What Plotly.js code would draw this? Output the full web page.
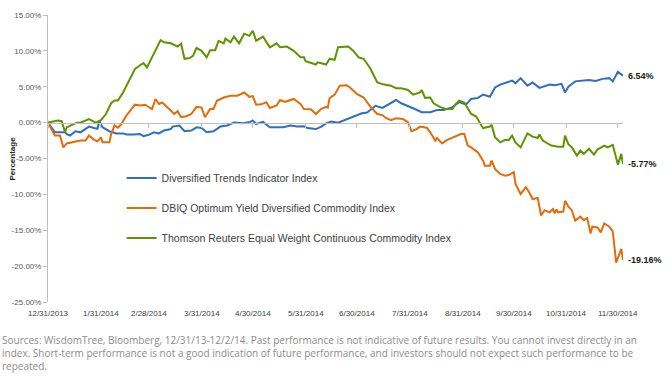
<!DOCTYPE html>
<html>
<head>
<meta charset="utf-8">
<script src="https://cdn.plot.ly/plotly-3.0.1.min.js"></script>
<style>
  html, body { margin: 0; padding: 0; background: #ffffff; }
  #chart { width: 670px; height: 383px; }
</style>
</head>
<body>
<div id="chart"></div>
<script>
// ---------- DATA (days since 12/31/2013, cumulative return in %) ----------
const baseDate = '2013-12-31';

const seriesNames = [
  'Diversified Trends Indicator Index',
  'DBIQ Optimum Yield Diversified Commodity Index',
  'Thomson Reuters Equal Weight Continuous Commodity Index'
];

const trendsDays = [0,4,10,11,13,16,19,22,24,27,29,30,32,36,40,44,46,50,54,56,59,62,65,68,72,73,77,80,84,87,90,93,97,101,105,109,114,118,120,122,126,130,134,138,142,146,150,152,157,160,163,166,170,174,179,184,187,192,196,200,204,207,211,215,219,224,228,232,237,241,245,248,252,255,259,262,265,269,272,274,277,281,284,288,290,294,297,301,303,305,309,313,317,321,325,329,331,334,337];
const trendsVals = [0,-1.35,-1.35,-1.6,-1.8,-1.2,-1.35,-0.9,-0.55,-0.75,-0.85,0.2,-0.65,-1.2,-1.5,-1.5,-1.65,-1.65,-1.6,-1.9,-1.7,-1.35,-1.5,-1.1,-0.9,-0.55,-0.4,-1.2,-1.1,-0.65,-0.75,-1.35,-1.2,-0.55,-0.4,0,-0.1,0.05,0.3,-0.2,0.1,-0.65,-0.65,-0.65,-0.4,-0.55,-0.5,-0.75,-0.9,-0.6,-0.1,0.15,0,0.35,0.75,1.3,1.4,2.35,2.05,2.6,3.15,2.7,2.35,1.9,1.45,1.45,1.75,1.75,2.15,2.85,2.5,3.3,3.45,3.9,3.6,4.9,5.3,5.6,5.85,5.5,6.2,5.15,5.6,4.85,5.0,5.3,5.2,5.4,4.2,5.0,5.75,5.8,5.95,5.8,6.1,6.2,5.75,7.1,6.54];

const dbiqDays = [0,4,7,9,11,15,19,22,24,27,29,31,32,36,37,39,41,43,46,49,51,54,57,59,61,63,65,67,70,72,74,76,78,81,84,87,90,92,95,97,99,103,107,111,115,118,120,122,125,128,130,134,136,139,144,148,150,154,157,160,163,164,165,168,171,175,177,181,185,189,193,196,198,201,204,208,211,213,216,218,222,224,227,228,231,234,239,242,244,246,248,252,255,256,259,260,262,265,268,270,273,274,277,280,282,284,287,289,291,294,296,297,298,299,302,303,305,307,309,312,314,316,318,319,322,324,326,329,331,333,336,337];
const dbiqVals = [0,-1.8,-1.8,-3.45,-2.9,-2.7,-2.5,-2.5,-1.8,-2.4,-2.6,-2.05,-2.75,-2.75,-1.6,-0.4,-0.7,-0.2,1.0,1.9,2.5,2.4,2.5,2.15,1.9,3.3,2.6,2.8,2.15,1.75,1.2,1.6,0.75,0.9,1.2,2.2,2.1,0.75,1.9,1.9,3.05,3.5,3.75,3.75,4.2,3.6,3.7,2.5,2.55,2.85,2.05,2.4,3.15,2.9,3.3,2.6,1.9,1.85,1.2,1.9,2.2,2.1,3.4,3.9,5.15,5.2,4.9,4.0,3.5,2.2,1.2,1.05,0.65,0.35,0.6,0.5,0.05,-1.2,-0.9,-0.55,-0.7,-1.35,-2.5,-2.15,-2.9,-2.4,-1.95,-1.6,-1.6,-3.2,-3.45,-4.15,-5.3,-6.0,-6.0,-5.3,-6.45,-7.15,-7.4,-7.3,-6.9,-8.55,-9.95,-9.0,-9.7,-10.65,-10.5,-12.95,-12.2,-12.5,-12.05,-12.65,-12.1,-12.5,-12.4,-10.9,-11.7,-12.2,-13.65,-13.1,-13.6,-13.3,-15.45,-14.5,-14.6,-15.3,-14.05,-14.5,-15.15,-19.5,-17.6,-19.16];

const treDays = [0,6,8,10,11,14,17,19,24,28,31,34,37,39,41,44,48,51,54,56,58,62,66,68,72,76,78,80,83,85,87,90,93,95,98,100,103,104,107,109,112,115,118,120,122,126,130,134,136,140,144,148,150,151,157,158,163,165,168,170,176,179,182,185,189,193,197,201,204,207,211,214,218,219,221,224,226,230,233,237,239,241,244,248,251,254,255,259,260,262,265,268,270,272,274,277,281,284,287,288,290,295,299,302,303,305,307,310,312,314,317,320,322,326,328,331,334,336,337];
const treVals = [0,0.3,0.2,-1.35,-0.65,-0.3,0,0,0.5,0,0.35,1.2,2.7,3.1,3.1,4.2,6.1,7.5,8.0,8.3,7.7,9.6,11.5,11.2,11.05,10.6,11.0,8.9,9.0,9.3,10.4,10.0,9.1,10.1,10.1,11.4,11.05,11.7,11.2,12.0,11.05,12.4,12.1,12.8,11.4,12.0,10.5,11.05,10.5,10.6,10.0,9.1,9.1,8.55,8.1,8.4,8.1,8.9,8.75,10.5,10.6,10.0,9.1,8.9,7.5,5.6,5.3,5.15,4.8,4.8,4.55,3.9,4.2,4.55,3.45,3.5,2.7,2.15,1.9,1.9,2.6,3.05,2.8,1.2,0.85,-0.4,-0.75,-0.55,-0.3,-2.05,-2.75,-2.4,-2.45,-1.8,-2.75,-3.45,-1.5,-1.95,-2.15,-1.65,-2.5,-3.2,-3.35,-3.35,-1.8,-3.0,-3.45,-4.6,-3.9,-4.35,-3.65,-4.45,-3.75,-3.2,-3.45,-3.1,-5.85,-4.35,-5.77];

const tickDates  = ['2013-12-31','2014-01-31','2014-02-28','2014-03-31','2014-04-30','2014-05-31','2014-06-30','2014-07-31','2014-08-31','2014-09-30','2014-10-31','2014-11-30'];
const tickLabels = ['12/31/2013','1/31/2014','2/28/2014','3/31/2014','4/30/2014','5/31/2014','6/30/2014','7/31/2014','8/31/2014','9/30/2014','10/31/2014','11/30/2014'];
const yTickVals  = [15,10,5,0,-5,-10,-15,-20,-25];
const yTitle = 'Percentage';

const colors = ['#2e6fc0', '#e36c0a', '#5f9400'];
const footnote = [
  'Sources: WisdomTree, Bloomberg, 12/31/13-12/2/14. Past performance is not indicative of future results. You cannot invest directly in an',
  'index. Short-term performance is not a good indication of future performance, and investors should not expect such performance to be',
  'repeated.'
];

// ---------- BUILD ----------
function toDate(d) {
  const t = new Date(baseDate + 'T00:00:00Z').getTime() + d * 86400000;
  return new Date(t).toISOString().slice(0, 10);
}
const allDays = [trendsDays, dbiqDays, treDays];
const allVals = [trendsVals, dbiqVals, treVals];

const traces = allDays.map((days, i) => ({
  x: days.map(toDate),
  y: allVals[i],
  type: 'scatter',
  mode: 'lines',
  name: seriesNames[i],
  legendgroup: 'g' + i,
  line: { color: colors[i], width: 2 },
  hoverinfo: 'skip'
}));

const annotations = [];
// x tick labels (axis sits at 0, labels at bottom)
tickDates.forEach((d, i) => {
  annotations.push({
    x: d, xref: 'x', y: 0, yref: 'paper',
    yanchor: 'top', xanchor: 'center', yshift: -5,
    text: tickLabels[i], showarrow: false,
    font: { family: 'Liberation Sans, Arial, sans-serif', size: 8, color: '#404040' }
  });
});
// end labels
allVals.forEach((vals, i) => {
  const days = allDays[i];
  annotations.push({
    x: toDate(days[days.length - 1]), xref: 'x',
    y: vals[vals.length - 1], yref: 'y',
    xanchor: 'left', yanchor: 'middle', xshift: 3,
    text: '<b>' + vals[vals.length - 1].toFixed(2) + '%</b>', showarrow: false,
    font: { family: 'Liberation Sans, Arial, sans-serif', size: 9, color: '#1a1a1a' }
  });
});
// y-axis title
annotations.push({
  x: (12 - 48) / 575, xref: 'paper', xanchor: 'center',
  y: 0.5, yref: 'paper', yanchor: 'middle', textangle: -90,
  text: '<b>' + yTitle + '</b>', showarrow: false,
  font: { family: 'Liberation Sans, Arial, sans-serif', size: 8, color: '#262626' }
});
// footnote
const footY = [339.5, 352.5, 365.5];
footnote.forEach((line, i) => {
  annotations.push({
    x: (1 - 48) / 575, xref: 'paper', xanchor: 'left',
    y: (302 - footY[i]) / 287, yref: 'paper', yanchor: 'middle',
    text: line, showarrow: false, borderpad: 0,
    font: { family: 'Open Sans, sans-serif', size: 10, color: '#8c8c8c' }
  });
});

const layout = {
  width: 670, height: 383,
  margin: { l: 48, r: 47, t: 15, b: 81 },
  paper_bgcolor: '#ffffff', plot_bgcolor: '#ffffff',
  showlegend: true,
  legend: {
    x: 0.128, xanchor: 'left', y: 0.483, yanchor: 'top',
    bgcolor: 'rgba(0,0,0,0)', borderwidth: 0,
    traceorder: 'grouped', tracegroupgap: 11,
    font: { family: 'Liberation Sans, Arial, sans-serif', size: 10.5, color: '#404040' }
  },
  xaxis: {
    type: 'date',
    range: [toDate(0), toDate(337.5)],
    anchor: 'free', position: 25 / 40,
    showline: true, linecolor: '#bfbfbf', linewidth: 1,
    ticks: 'outside', ticklen: 4, tickcolor: '#bfbfbf',
    tickvals: tickDates, showticklabels: false,
    showgrid: false, zeroline: false, fixedrange: true
  },
  yaxis: {
    range: [-25, 15],
    tickvals: yTickVals,
    ticktext: yTickVals.map(v => v.toFixed(2) + '%'),
    ticks: 'outside', ticklen: 4, tickcolor: '#bfbfbf',
    showline: true, linecolor: '#bfbfbf', linewidth: 1,
    showgrid: false, zeroline: false,
    tickfont: { family: 'Liberation Sans, Arial, sans-serif', size: 8, color: '#595959' },
    fixedrange: true
  },
  annotations: annotations
};

Plotly.newPlot('chart', traces, layout, { displayModeBar: false, staticPlot: true });
</script>
</body>
</html>
